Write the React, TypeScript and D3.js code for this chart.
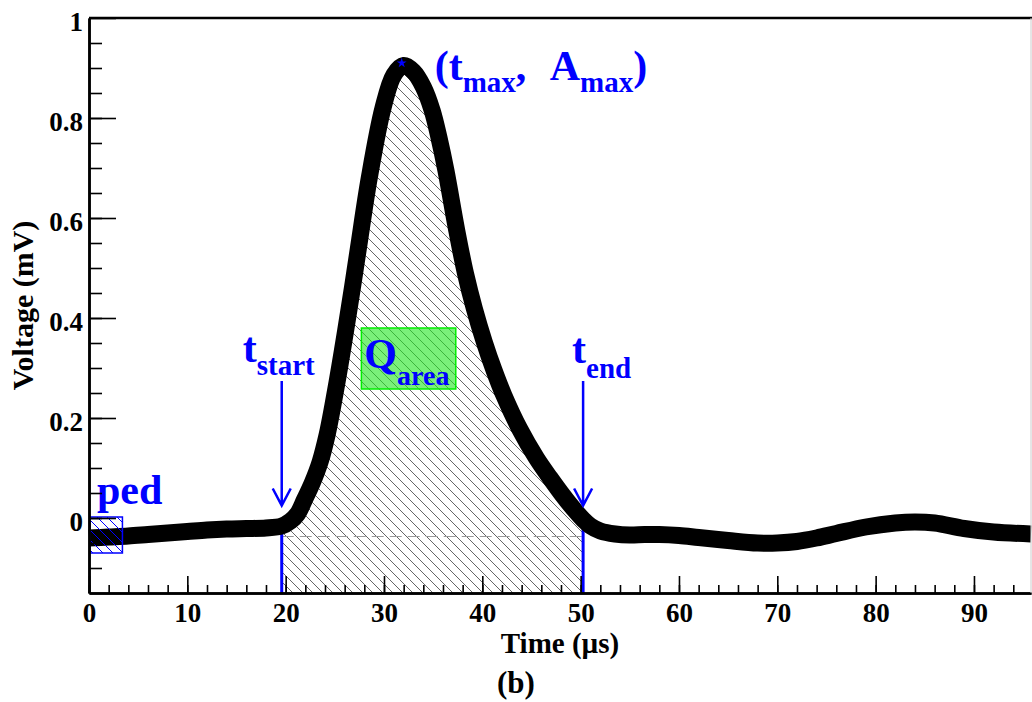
import React, { useEffect, useRef } from 'react';
import * as d3 from 'd3';

// pulse waveform (time in µs, voltage in mV)
const timeUs = [0, 2, 4, 6, 8, 10, 12, 14, 16, 18, 19.6, 20.5, 21.2, 21.9, 22.7, 23.5, 24.2, 24.8, 25.5, 26.1,
    26.8, 27.4, 28.5, 29.9, 31, 32, 33, 34, 34.9, 35.6, 36.3, 37.4, 38.3, 39.2, 40.2, 41.2, 42.2, 43.8, 45.5,
    46.9, 48.2, 49.3, 50.25, 51, 52, 53.5, 55, 56.5, 58, 60, 62, 65, 68, 70, 72, 74, 76, 79, 82, 84, 86, 89,
    92, 95.8];
const voltage = [-0.040, -0.038, -0.036, -0.033, -0.030, -0.027, -0.024, -0.022, -0.021, -0.020, -0.016, -0.006,
    0.008, 0.036, 0.070, 0.112, 0.165, 0.225, 0.303, 0.375, 0.462, 0.54, 0.68, 0.82, 0.886, 0.905, 0.893, 0.862,
    0.815, 0.76, 0.695, 0.575, 0.488, 0.418, 0.352, 0.295, 0.245, 0.178, 0.12, 0.08, 0.045, 0.018, -0.003,
    -0.016, -0.026, -0.032, -0.034, -0.033, -0.033, -0.035, -0.039, -0.045, -0.050, -0.050, -0.047, -0.040,
    -0.031, -0.018, -0.010, -0.008, -0.010, -0.021, -0.028, -0.032];

const xDomain = [0, 95.8];
const yDomain = [-0.15, 1];
const xTicks = [0, 10, 20, 30, 40, 50, 60, 70, 80, 90];
const yTicks = [0, 0.2, 0.4, 0.6, 0.8, 1];

// annotations
const tStart = 19.6;
const tEnd = 50.25;
const peak = [31.8, 0.91];
const pedTime = [0, 3.4];
const pedVolt = [-0.07, 0.002];
const qTime = [27.7, 37.3];
const qVolt = [0.258, 0.38];
const pedLevel = -0.037;
const arrowVolt = [0.274, 0.025];

const width = 1032;
const height = 702;
const marginTop = 18;
const marginRight = 1;
const marginBottom = 109;
const marginLeft = 89;

const FONT = "'Liberation Serif', 'Times New Roman', serif";
const BLUE = '#0000ff';

const App = () => {
    const svgRef = useRef<SVGSVGElement>(null);

    useEffect(() => {
        const svg = d3.select(svgRef.current);
        svg.selectAll('*').remove();

        const x = d3.scaleLinear().domain(xDomain).range([marginLeft, width - marginRight]);
        const y = d3.scaleLinear().domain(yDomain).range([height - marginBottom, marginTop]);
        const points: [number, number][] = timeUs.map((t, i) => [t, voltage[i]]);
        const yBottom = y(yDomain[0]);

        const defs = svg.append('defs');
        const hatch = (id: string, color: string, w: number) => {
            defs.append('pattern')
                .attr('id', id)
                .attr('patternUnits', 'userSpaceOnUse')
                .attr('width', 10)
                .attr('height', 10)
                .append('path')
                .attr('d', 'M-1,-1L11,11M-1,9L1,11M9,-1L11,1')
                .attr('stroke', color)
                .attr('stroke-width', w);
        };
        hatch('hatchGray', '#555', 0.9);
        hatch('hatchBlue', BLUE, 1);

        defs.append('clipPath').attr('id', 'integ')
            .append('rect')
            .attr('x', x(tStart))
            .attr('y', 0)
            .attr('width', x(tEnd) - x(tStart))
            .attr('height', height);

        // integrated charge region
        const area = d3.area<[number, number]>()
            .x(d => x(d[0]))
            .y0(yBottom)
            .y1(d => y(d[1]))
            .curve(d3.curveCatmullRom);
        svg.append('path')
            .attr('d', area(points))
            .attr('fill', 'url(#hatchGray)')
            .attr('clip-path', 'url(#integ)');

        svg.append('line')
            .attr('x1', x(tStart)).attr('x2', x(tEnd))
            .attr('y1', y(pedLevel)).attr('y2', y(pedLevel))
            .attr('stroke', '#999')
            .attr('stroke-width', 1)
            .attr('stroke-dasharray', '12 6');

        // Q_area box
        svg.append('rect')
            .attr('x', x(qTime[0]))
            .attr('y', y(qVolt[1]))
            .attr('width', x(qTime[1]) - x(qTime[0]))
            .attr('height', y(qVolt[0]) - y(qVolt[1]))
            .attr('fill', '#22e622')
            .attr('fill-opacity', 0.6)
            .attr('stroke', '#00ee00')
            .attr('stroke-width', 1.5);

        // start / end markers
        [tStart, tEnd].forEach(t => {
            const i = d3.bisector((d: [number, number]) => d[0]).left(points, t);
            const v = points[Math.min(i, points.length - 1)][1];
            svg.append('line')
                .attr('x1', x(t)).attr('x2', x(t))
                .attr('y1', y(v)).attr('y2', yBottom)
                .attr('stroke', BLUE)
                .attr('stroke-width', 3);
        });

        // waveform
        const line = d3.line<[number, number]>()
            .x(d => x(d[0]))
            .y(d => y(d[1]))
            .curve(d3.curveCatmullRom);
        svg.append('path')
            .attr('d', line(points))
            .attr('fill', 'none')
            .attr('stroke', '#000')
            .attr('stroke-width', 17)
            .attr('stroke-linejoin', 'round');

        // pedestal window
        svg.append('rect')
            .attr('x', x(pedTime[0]) + 1)
            .attr('y', y(pedVolt[1]))
            .attr('width', x(pedTime[1]) - x(pedTime[0]) - 1)
            .attr('height', y(pedVolt[0]) - y(pedVolt[1]))
            .attr('fill', 'url(#hatchBlue)')
            .attr('stroke', BLUE)
            .attr('stroke-width', 1.5);

        // arrows
        [tStart, tEnd].forEach(t => {
            const ax = x(t);
            const top = y(arrowVolt[0]);
            const tip = y(arrowVolt[1]);
            svg.append('path')
                .attr('d', `M${ax},${top}L${ax},${tip}M${ax - 9},${tip - 17}L${ax},${tip}L${ax + 9},${tip - 17}`)
                .attr('fill', 'none')
                .attr('stroke', BLUE)
                .attr('stroke-width', 2.5);
        });

        // peak marker
        svg.append('path')
            .attr('transform', `translate(${x(peak[0])},${y(peak[1])})`)
            .attr('d', d3.symbol(d3.symbolStar, 30)())
            .attr('fill', BLUE);

        // annotation text
        const label = (px: number, py: number, main: string, sub: string, size = 42, subSize = 29, dy = 13) => {
            const t = svg.append('text')
                .attr('x', px).attr('y', py)
                .attr('font-family', FONT)
                .attr('font-weight', 'bold')
                .attr('fill', BLUE)
                .attr('font-size', size);
            t.append('tspan').text(main);
            if (sub) t.append('tspan').attr('font-size', subSize).attr('dy', dy).text(sub);
            return t;
        };
        label(x(tStart) - 39, 362, 't', 'start');
        label(x(tEnd) - 11, 363, 't', 'end', 42, 29, 15);
        label(x(qTime[0]) + 3, 368, 'Q', 'area', 42, 28, 17);
        label(x(pedTime[0]) + 8, 504, 'ped', '');

        const tm = label(x(peak[0]) + 33, 80, '(t', 'max', 42, 29, 12);
        tm.append('tspan').attr('dy', -12).text(',');
        const am = label(x(peak[0]) + 148, 80, 'A', 'max', 42, 29, 12);
        am.append('tspan').attr('dy', -12).text(')');

        // axes
        const styleAxis = (g: d3.Selection<SVGGElement, unknown, null, undefined>) => {
            g.select('.domain').attr('stroke-width', 2.5);
            g.selectAll('.tick line').attr('stroke-width', 1.6);
            g.selectAll('text')
                .attr('font-family', FONT)
                .attr('font-weight', 'bold')
                .attr('font-size', 27)
                .attr('fill', '#000');
        };

        svg.append('g')
            .attr('transform', `translate(0,${yBottom})`)
            .call(d3.axisBottom(x).tickValues(d3.range(0, 95, 2)).tickSize(-8).tickSizeOuter(0).tickFormat(() => ''))
            .call(styleAxis);
        svg.append('g')
            .attr('transform', `translate(0,${yBottom})`)
            .call(d3.axisBottom(x).tickValues(xTicks).tickSize(-17).tickSizeOuter(0).tickPadding(10).tickFormat(d3.format('d')))
            .call(styleAxis);

        svg.append('g')
            .attr('transform', `translate(${marginLeft},0)`)
            .call(d3.axisLeft(y).tickValues(d3.range(-0.1, 1.0, 0.05)).tickSize(-13).tickSizeOuter(0).tickFormat(() => ''))
            .call(styleAxis);
        svg.append('g')
            .attr('transform', `translate(${marginLeft},0)`)
            .call(d3.axisLeft(y).tickValues(yTicks).tickSize(-27).tickSizeOuter(0).tickPadding(6).tickFormat(d3.format('~g')))
            .call(styleAxis)
            .call(g => g.selectAll('text').attr('dy', '0.45em'));

        // frame top / right
        svg.append('line')
            .attr('x1', marginLeft).attr('x2', width)
            .attr('y1', marginTop).attr('y2', marginTop)
            .attr('stroke', '#000').attr('stroke-width', 2.5);
        svg.append('line')
            .attr('x1', width - 1).attr('x2', width - 1)
            .attr('y1', marginTop).attr('y2', yBottom)
            .attr('stroke', '#ccc').attr('stroke-width', 1);

        // axis titles
        svg.append('text')
            .attr('x', (marginLeft + width - marginRight) / 2)
            .attr('y', 653)
            .attr('text-anchor', 'middle')
            .attr('font-family', FONT).attr('font-weight', 'bold').attr('font-size', 29)
            .text('Time (\u00b5s)');
        svg.append('text')
            .attr('transform', `translate(33,${(marginTop + yBottom) / 2}) rotate(-90)`)
            .attr('text-anchor', 'middle')
            .attr('font-family', FONT).attr('font-weight', 'bold').attr('font-size', 30)
            .text('Voltage (mV)');
        svg.append('text')
            .attr('x', width / 2)
            .attr('y', 693)
            .attr('text-anchor', 'middle')
            .attr('font-family', FONT).attr('font-weight', 'bold').attr('font-size', 31)
            .text('(b)');
    }, []);

    return (
        <div style={{ position: 'absolute', left: 0, top: 0, background: '#fff' }}>
            <svg ref={svgRef} width={width} height={height} style={{ display: 'block' }}></svg>
        </div>
    );
};

export default App;
